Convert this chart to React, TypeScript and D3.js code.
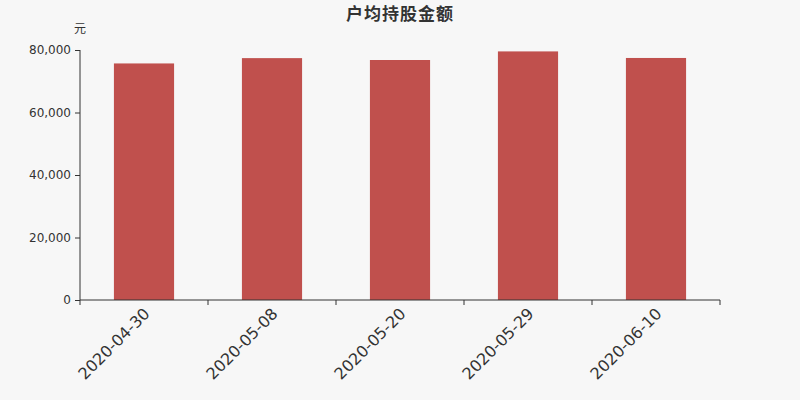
import React, { useEffect, useRef } from 'react';
import * as d3 from 'd3';

const dates = ['2020-04-30', '2020-05-08', '2020-05-20', '2020-05-29', '2020-06-10'];
const amounts = [75700, 77400, 76800, 79550, 77450];
const yTicks = [0, 20000, 40000, 60000, 80000];

const App: React.FC = () => {
    const chartRef = useRef<SVGSVGElement>(null);

    useEffect(() => {
        if (!chartRef.current) return;
        d3.select(chartRef.current).selectAll('*').remove();

        const width = 800;
        const height = 400;
        const margin = { top: 50, right: 80, bottom: 100, left: 80 };
        const innerWidth = width - margin.left - margin.right;
        const innerHeight = height - margin.top - margin.bottom;
        const font = '"DejaVu Sans", "Noto Sans CJK SC", sans-serif';
        const textColor = '#333';

        const svg = d3.select(chartRef.current)
            .attr('width', width)
            .attr('height', height)
            .style('position', 'absolute')
            .style('left', '0px')
            .style('top', '0px')
            .style('font-family', font);

        svg.append('rect')
            .attr('width', width)
            .attr('height', height)
            .attr('fill', '#f7f7f7');

        const g = svg.append('g')
            .attr('transform', `translate(${margin.left}, ${margin.top})`);

        const xScale = d3.scaleBand()
            .domain(dates)
            .range([0, innerWidth])
            .paddingInner(0.53)
            .paddingOuter(0.265);

        const yScale = d3.scaleLinear()
            .domain([0, 80000])
            .range([innerHeight, 0]);

        // Bars
        g.selectAll('.bar')
            .data(dates)
            .enter()
            .append('rect')
            .attr('class', 'bar')
            .attr('x', d => xScale(d) as number)
            .attr('y', (_, i) => yScale(amounts[i]))
            .attr('width', xScale.bandwidth())
            .attr('height', (_, i) => innerHeight - yScale(amounts[i]))
            .attr('fill', '#c0504d');

        // Y axis
        const yAxis = g.append('g')
            .call(d3.axisLeft(yScale)
                .tickValues(yTicks)
                .tickSize(5)
                .tickPadding(4)
                .tickFormat(d => d3.format(',')(d as number)));
        yAxis.select('.domain').attr('stroke', textColor).attr('d', `M0,0V${innerHeight}`);
        yAxis.selectAll('line').attr('stroke', textColor);
        yAxis.selectAll('text')
            .attr('fill', textColor)
            .attr('font-size', '12px')
            .attr('font-family', font);

        // X axis with ticks at band boundaries
        const boundaries = d3.range(dates.length + 1).map(i => i * innerWidth / dates.length);
        const xAxis = g.append('g')
            .attr('transform', `translate(0, ${innerHeight})`);
        xAxis.append('line')
            .attr('x1', 0)
            .attr('x2', innerWidth)
            .attr('stroke', textColor);
        xAxis.selectAll('.tick')
            .data(boundaries)
            .enter()
            .append('line')
            .attr('x1', d => d)
            .attr('x2', d => d)
            .attr('y1', 0)
            .attr('y2', 5)
            .attr('stroke', textColor);
        xAxis.selectAll('.xlabel')
            .data(dates)
            .enter()
            .append('text')
            .attr('class', 'xlabel')
            .attr('transform', d => `translate(${(xScale(d) as number) + xScale.bandwidth() / 2}, 8) rotate(-45)`)
            .attr('text-anchor', 'end')
            .attr('dy', '0.6em')
            .attr('fill', textColor)
            .attr('font-size', '16px')
            .text(d => d);

        // Unit label
        svg.append('text')
            .attr('x', 80)
            .attr('y', 33)
            .attr('text-anchor', 'middle')
            .attr('fill', textColor)
            .attr('font-size', '12px')
            .text('元');

        // Title
        svg.append('text')
            .attr('x', width / 2)
            .attr('y', 20)
            .attr('text-anchor', 'middle')
            .attr('fill', textColor)
            .attr('font-size', '17px')
            .attr('font-weight', 'bold')
            .attr('letter-spacing', '1px')
            .text('户均持股金额');
    }, []);

    return <svg ref={chartRef}></svg>;
};

export default App;
